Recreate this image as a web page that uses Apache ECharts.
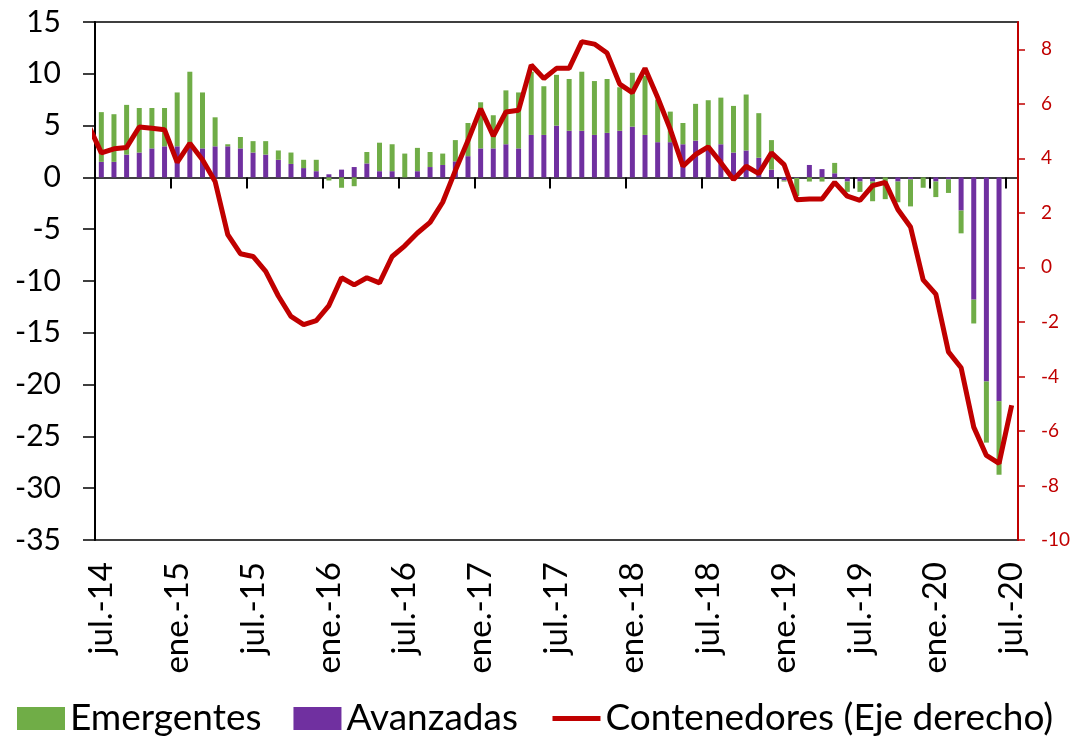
<!DOCTYPE html>
<html>
<head>
<meta charset="utf-8">
<script src="https://cdn.jsdelivr.net/npm/echarts@6/dist/echarts.min.js"></script>
<style>
  html, body { margin: 0; padding: 0; background: #fff; }
  #chart { width: 1078px; height: 738px; }
</style>
</head>
<body>
<div id="chart"></div>
<script>
// meses jul.-14 .. jul.-20
const mesesAbr = ['ene.', 'feb.', 'mar.', 'abr.', 'may.', 'jun.', 'jul.', 'ago.', 'sep.', 'oct.', 'nov.', 'dic.'];
const categorias = [];
for (let i = 0; i < 73; i++) {
    const m = (6 + i) % 12;
    const y = 14 + Math.floor((6 + i) / 12);
    categorias.push(mesesAbr[m] + '-' + y);
}

// barras: jul.-14 .. jun.-20
const avanzadas = [
    1.5, 1.5, 2.2, 2.4, 2.8, 3.0, 3.0, 2.9, 2.8, 3.0, 3.0, 2.8,
    2.4, 2.2, 1.7, 1.3, 0.9, 0.6, 0.3, 0.75, 1.0, 1.35, 0.6, 0.6,
    0, 0.6, 1.0, 1.2, 1.55, 2.05, 2.8, 2.8, 3.2, 2.8, 4.1, 4.1,
    5.0, 4.5, 4.5, 4.1, 4.3, 4.5, 4.9, 4.1, 3.4, 3.4, 3.2, 3.55,
    2.95, 3.2, 2.4, 2.6, 1.9, 0.75, -0.3, -0.05, 1.2, 0.8, 0.4, -0.4,
    -0.4, -0.4, 0, -0.4, -0.2, 0, -0.4, -0.2, -3.2, -11.8, -19.7, -21.6
];
const emergentes = [
    4.8, 4.6, 4.8, 4.3, 3.9, 3.7, 5.2, 7.3, 5.4, 2.8, 0.2, 1.1,
    1.1, 1.3, 0.9, 1.1, 0.8, 1.1, -0.3, -1.0, -0.85, 1.1, 2.75, 2.6,
    2.3, 2.25, 1.45, 1.1, 2.05, 3.2, 4.45, 3.2, 5.2, 5.4, 6.1, 4.7,
    4.9, 5.0, 5.7, 5.2, 5.2, 4.2, 5.2, 5.7, 4.1, 2.95, 2.05, 3.55,
    4.5, 4.5, 4.5, 5.4, 4.3, 2.85, -0.1, -1.75, -0.4, -0.4, 1.0, -1.0,
    -1.0, -1.9, -2.1, -2.0, -2.6, -1.0, -1.5, -1.3, -2.2, -2.3, -5.9, -7.1
];
// línea: jun.-14 .. jul.-20 (el primer punto queda fuera del área)
const contenedores = [
    5.2,
    4.2, 4.35, 4.4, 5.15, 5.1, 5.05, 3.85, 4.55, 3.95, 3.15, 1.2, 0.5,
    0.4, -0.15, -1.05, -1.8, -2.1, -1.95, -1.4, -0.38, -0.64, -0.38, -0.57, 0.4,
    0.79, 1.26, 1.65, 2.39, 3.55, 4.65, 5.82, 4.82, 5.7, 5.76, 7.42, 6.93,
    7.3, 7.3, 8.28, 8.19, 7.86, 6.72, 6.41, 7.3, 6.23, 5.06, 3.71, 4.14,
    4.42, 3.84, 3.22, 3.71, 3.44, 4.2, 3.77, 2.48, 2.51, 2.51, 3.12, 2.61,
    2.46, 3.0, 3.12, 2.12, 1.48, -0.46, -0.98, -3.1, -3.68, -5.86, -6.9, -7.19,
    -5.06
];
const ticksIzq = { min: -35, max: 15, interval: 5 };
const ticksDer = [-10, -8, -6, -4, -2, 0, 2, 4, 6, 8];

const verde = '#70AD47';
const morado = '#7030A0';
const rojo = '#C00000';
const fuente = 'Lato';

const chart = echarts.init(document.getElementById('chart'));
chart.setOption({
    animation: false,
    textStyle: { fontFamily: fuente },
    grid: {
        left: 95, right: 60, top: 22, bottom: 198,
        show: true, borderColor: '#000', borderWidth: 1.5
    },
    legend: {
        data: [
            { name: 'Emergentes', icon: 'rect' },
            { name: 'Avanzadas', icon: 'rect' },
            { name: 'Contenedores (Eje derecho)', itemStyle: { opacity: 0 }, lineStyle: { width: 5 } }
        ],
        left: 12,
        bottom: -4,
        itemWidth: 48,
        itemHeight: 23,
        itemGap: 32,
        textStyle: { fontSize: 37, color: '#000', fontFamily: fuente }
    },
    xAxis: [{
        // eje en el cero, solo marcas cada 6 meses
        type: 'category',
        data: categorias,
        axisLine: { onZero: true, onZeroAxisIndex: 0, lineStyle: { color: '#000', width: 1.5 } },
        axisTick: { show: true, length: 11, interval: i => i % 6 === 0, lineStyle: { color: '#000', width: 2 } },
        axisLabel: { show: false },
        splitLine: { show: false }
    }, {
        // etiquetas abajo
        type: 'category',
        position: 'bottom',
        data: categorias,
        axisLine: { show: false, onZero: false },
        axisTick: { show: false },
        axisLabel: {
            interval: 5, rotate: 90, margin: 22,
            fontSize: 33, color: '#000', fontFamily: fuente
        },
        splitLine: { show: false }
    }, {
        // eje oculto para la línea (permite recortar jun.-14)
        type: 'value',
        show: false,
        min: -0.5,
        max: 72.5
    }],
    yAxis: [{
        type: 'value',
        min: ticksIzq.min, max: ticksIzq.max, interval: ticksIzq.interval,
        axisLine: { show: true, onZero: false, lineStyle: { color: '#000', width: 2 } },
        axisTick: { show: true, length: 12, lineStyle: { color: '#000', width: 1.5 } },
        axisLabel: { fontSize: 30, color: '#000', margin: 34, fontFamily: fuente },
        splitLine: { show: false }
    }, {
        type: 'value',
        position: 'right',
        min: -10, max: 9,
        z: 10,
        axisLine: { show: true, onZero: false, lineStyle: { color: rojo, width: 2 } },
        axisTick: { show: true, length: 7, customValues: ticksDer, lineStyle: { color: rojo, width: 1.5 } },
        axisLabel: { fontSize: 19, color: rojo, margin: 23, customValues: ticksDer, fontFamily: fuente },
        splitLine: { show: false }
    }],
    series: [{
        name: 'Avanzadas',
        type: 'bar',
        stack: 'total',
        xAxisIndex: 0,
        yAxisIndex: 0,
        barWidth: 5,
        itemStyle: { color: morado },
        data: avanzadas
    }, {
        name: 'Emergentes',
        type: 'bar',
        stack: 'total',
        xAxisIndex: 0,
        yAxisIndex: 0,
        barWidth: 5,
        itemStyle: { color: verde },
        data: emergentes
    }, {
        name: 'Contenedores (Eje derecho)',
        type: 'line',
        xAxisIndex: 2,
        yAxisIndex: 1,
        symbol: 'none',
        clip: true,
        z: 5,
        lineStyle: { color: rojo, width: 5 },
        itemStyle: { color: rojo },
        data: contenedores.map((v, i) => [i - 1, v])
    }]
});
</script>
</body>
</html>
